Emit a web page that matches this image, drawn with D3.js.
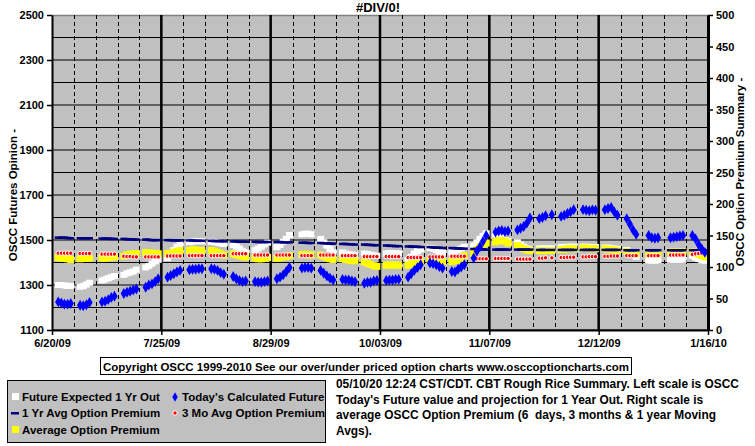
<!DOCTYPE html>
<html><head><meta charset="utf-8">
<script src="https://cdn.jsdelivr.net/npm/d3@7"></script>
<style>
body{margin:0;background:#fff;}
svg text{font-family:"Liberation Sans",Arial,sans-serif;font-weight:bold;white-space:pre;}
</style></head>
<body><svg id="c" width="755" height="446"></svg>
<script>
// ---- data ----
const chartTitle = "#DIV/0!";
const weekStarts = ["2009-06-22","2009-06-29","2009-07-06","2009-07-13","2009-07-20","2009-07-27","2009-08-03","2009-08-10","2009-08-17","2009-08-24",
  "2009-08-31","2009-09-07","2009-09-14","2009-09-21","2009-09-28","2009-10-05","2009-10-12","2009-10-19","2009-10-26","2009-11-02",
  "2009-11-09","2009-11-16","2009-11-23","2009-11-30","2009-12-07","2009-12-14","2009-12-21","2009-12-28","2010-01-04","2010-01-11"];
// trading weekdays in each week (0 = Monday)
const weekDays = [[0,1,2,3,4],[0,1,2,3],[0,1,2,3,4],[0,1,2,3,4],[0,1,2,3,4],[0,1,2,3,4],[0,1,2,3,4],[0,1,2,3,4],[0,1,2,3,4],[0,1,2,3,4],
  [0,1,2,3,4],[1,2,3,4],[0,1,2,3,4],[0,1,2,3,4],[0,1,2,3,4],[0,1,2,3,4],[0,1,2,3,4],[0,1,2,3,4],[0,1,2,3,4],[0,1,2,3,4],
  [0,1,2,3,4],[0,1,2,3,4],[0,1,2,4],[0,1,2,3,4],[0,1,2,3,4],[0,1,2,3,4],[0,1,2,3],[0,1,2,3],[0,1,2,3,4],[0,1,2,3,4]];

// Future Expected 1 Yr Out (left scale)
const futureExpected = [[1300,1300,1298,1296,1296],[1292,1295,1302,1310],[1320,1325,1330,1335,1340],[1345,1352,1356,1360,1368],[1378,1385,1395,1405,1412],
  [1420,1440,1455,1470,1480],[1490,1492,1495,1495,1494],[1492,1490,1488,1485,1482],[1478,1470,1462,1452,1445],[1455,1462,1470,1480,1488],
  [1468,1478,1492,1505,1522],[1525,1528,1528,1525],[1505,1490,1475,1460,1445],[1445,1440,1438,1435,1432],[1440,1438,1435,1432,1430],
  [1440,1442,1442,1440,1440],[1412,1425,1440,1450,1458],[1465,1462,1455,1448,1442],[1445,1448,1455,1462,1470],[1475,1490,1505,1518,1530],
  [1525,1520,1510,1500,1495],[1490,1480,1470,1462,1458],[1462,1462,1463,1463],[1468,1468,1470,1470,1470],[1470,1470,1469,1469,1469],
  [1466,1466,1464,1462,1460],[1456,1445,1435,1425],[1410,1408,1408,1410],[1412,1412,1412,1412,1412],[1430,1422,1415,1410,1408]];
// Today's Calculated Future (left scale)
const todaysFuture = [[1225,1220,1215,1215,1218],[1210,1208,1212,1222],[1225,1228,1235,1245,1250],[1262,1268,1272,1278,1282],[1290,1300,1305,1315,1328],
  [1335,1342,1350,1358,1365],[1368,1370,1370,1372,1372],[1372,1370,1365,1355,1348],[1338,1328,1320,1315,1318],[1315,1313,1312,1315,1318],
  [1328,1335,1345,1360,1378],[1375,1378,1378,1375],[1365,1352,1340,1330,1322],[1325,1322,1322,1318,1315],[1308,1312,1312,1318,1320],
  [1320,1322,1322,1325,1325],[1335,1350,1365,1378,1390],[1398,1395,1390,1382,1375],[1360,1358,1370,1380,1390],[1420,1450,1470,1495,1520],
  [1535,1540,1542,1538,1540],[1545,1552,1560,1575,1598],[1595,1600,1608,1612],[1605,1610,1618,1625,1635],[1635,1632,1630,1634,1632],
  [1635,1640,1645,1625,1610],[1595,1570,1545,1525],[1520,1510,1508,1510],[1510,1512,1515,1518,1520],[1520,1505,1480,1460,1445]];
// 1 Yr Avg Option Premium (right scale)
const avg1Yr = [[147,147,147,146.5,146],[146,146,146,146],[145.5,145.5,145.5,145,145],[145,144.5,144.5,144,144],[144,143.5,143,143,143],
  [143,143,142.5,142.5,142.5],[142.5,142.5,142,142,142],[142,141.5,141.5,141.5,141],[141,141,140.5,140.5,140.5],[140.5,140,140,140,140],
  [140,140,139.5,139.5,139.5],[139,139,138.5,138.5],[138.5,138,138,137.5,137.5],[137,137,136.5,136.5,136],[136,135.5,135.5,135,135],
  [134.5,134,134,133.5,133.5],[133,133,132.5,132.5,132],[132,131.5,131,131,130.5],[130.5,130,130,129.5,129.5],[129,129,128.5,128.5,128],
  [128,128,128,128,128],[128,128,128,128,128],[127.5,127.5,127.5,127.5],[127.5,127.5,127.5,127.5,127.5],[127.5,127.5,127.5,127.5,127.5],
  [127.5,127.5,127.5,127.5,127.5],[127,127,127,127],[127,127,127,127],[127,127,127,127,127],[127,127,127,127,127]];
// 3 Mo Avg Option Premium (right scale)
const avg3Mo = [[122,122,122,122,122],[121.5,121.5,121.5,121.5],[120.5,120.5,120.5,120.5,120.5],[117,116.5,116.5,116,116],[116,116,116,116,116],
  [117.5,117.5,117.5,117.5,117.5],[118,118,118,118,118],[118,118,118,118,118],[121,121,121,121,121],[119,119,119,119,119],
  [119,119,119,119,119],[118,118,118,118],[119,119,119,119,119],[118,118,118,118,118],[116.5,116.5,116.5,116.5,116.5],
  [116.5,116.5,116.5,116.5,116.5],[115,115,115,115,115],[116,116,116,116,116],[117,117,117,117,117],[113,113,113,113,113],
  [113.5,113.5,113.5,113.5,113.5],[112.5,112.5,112.5,112.5,112.5],[114,114,114.5,114.5],[115,115,115.5,115.5,115.5],[116,116,116.5,116.5,116.5],
  [117,117,117.5,117.5,117.5],[118,118,118,118],[118,118,118,118],[119,119,119,119,119],[120,121,121.5,122,123]];
// Average Option Premium (right scale)
const avgPremium = [[115,114,114,113,112],[113,114,114,114],[114,114,115,116,116],[117,119,120,121,121],[123,122,122,121,121],
  [121,122,123,125,126],[126,127,127,126,126],[126,125,123,121,119],[121,119,118,117,116],[114,113,113,114,115],
  [114,115,116,117,118],[120,120,119,119],[119,117,115,113,112],[113,112,111,110,110],[108,106,104,102,101],
  [103,103,103,103,103],[103,105,107,108,109],[111,111,110,110,109],[109,110,111,114,118],[122,128,132,136,138],
  [140,142,142,141,138],[134,131,129,127,126],[126,126,126,126],[128,128,129,129,129],[130,130,129,129,129],
  [129,128,128,127,126],[125,123,122,121],[120,120,121,121],[124,124,124,124,124],[124,122,120,118,116]];

const leftTicks = [1100,1300,1500,1700,1900,2100,2300,2500];
const rightTicks = [0,50,100,150,200,250,300,350,400,450,500];
const dateTicks = ["2009-06-20","2009-07-25","2009-08-29","2009-10-03","2009-11-07","2009-12-12","2010-01-16"];
const leftTitle = "OSCC Futures Opinion -";
const rightTitle = "OSCC Option Premium Summary -";
const copyright = "Copyright OSCC 1999-2010 See our over/under priced option charts www.osccoptioncharts.com";
const legendItems = [["Future Expected 1 Yr Out","white"],["Today's Calculated Future","blue"],["1 Yr Avg Option Premium","navy"],["3 Mo Avg Option Premium","red"],["Average Option Premium","yellow"]];
const description = ["05/10/20 12:24 CST/CDT. CBT Rough Rice Summary. Left scale is OSCC","Today's Future value and projection for 1 Year Out. Right scale is","average OSCC Option Premium (6  days, 3 months & 1 year Moving","Avgs)."];

// ---- build rows ----
const parse = d3.utcParse("%Y-%m-%d");
const rows = [];
weekStarts.forEach((ws,wi)=>{
  weekDays[wi].forEach((dd,di)=>{
    rows.push({date:d3.utcDay.offset(parse(ws),dd),
      fe:futureExpected[wi][di], tf:todaysFuture[wi][di], a1:avg1Yr[wi][di], a3:avg3Mo[wi][di], ap:avgPremium[wi][di]});
  });
});

const L=52,R=708,T=15,B=330;
const x = d3.scaleUtc().domain([parse("2009-06-20"),parse("2010-01-16")]).range([L,R]);
const yL = d3.scaleLinear().domain([1100,2500]).range([B,T]);
const yR = d3.scaleLinear().domain([0,500]).range([B,T]);

const svg = d3.select("#c");
svg.append("rect").attr("x",L).attr("y",T).attr("width",R-L).attr("height",B-T).attr("fill","#c0c0c0");

// horizontal grid
svg.append("g").selectAll("line").data(d3.range(1100,2501,100)).join("line")
  .attr("x1",L).attr("x2",R).attr("y1",d=>yL(d)).attr("y2",d=>yL(d))
  .attr("stroke","#000").attr("stroke-width",d=>d===2500?0:1.2);
svg.append("line").attr("x1",L).attr("x2",R).attr("y1",T+0.5).attr("y2",T+0.5).attr("stroke","#808080").attr("stroke-width",1.5);
// vertical grid
const vlines = [];
for(let d=parse("2009-06-20"); d<=parse("2010-01-16"); d=d3.utcDay.offset(d,7)) vlines.push(d);
const majorSet = new Set(dateTicks.map(s=>+parse(s)));
svg.append("g").selectAll("line").data(vlines.filter(d=>!majorSet.has(+d))).join("line")
  .attr("x1",d=>Math.round(x(d))+0.5).attr("x2",d=>Math.round(x(d))+0.5).attr("y1",T).attr("y2",B)
  .attr("stroke","#000").attr("stroke-width",1).attr("stroke-dasharray","4,3");
svg.append("g").selectAll("line").data(dateTicks.slice(1,-1).map(parse)).join("line")
  .attr("x1",d=>x(d)).attr("x2",d=>x(d)).attr("y1",T).attr("y2",B)
  .attr("stroke","#000").attr("stroke-width",2.5);

// series
const g = svg.append("g");
g.selectAll(".fe").data(rows).join("rect")
  .attr("x",d=>x(d.date)-3.5).attr("y",d=>yL(d.fe)-3).attr("width",7).attr("height",6).attr("fill","#fff");
g.selectAll(".ap").data(rows).join("rect")
  .attr("x",d=>x(d.date)-3.5).attr("y",d=>yR(d.ap)-3.5).attr("width",7).attr("height",7).attr("fill","#ffff00");
g.selectAll(".a1").data(rows).join("rect")
  .attr("x",d=>x(d.date)-3.5).attr("y",d=>yR(d.a1)-1).attr("width",7).attr("height",2.5).attr("fill","#000080");
g.selectAll(".a3").data(rows).join("circle")
  .attr("cx",d=>x(d.date)).attr("cy",d=>yR(d.a3)).attr("r",2.2).attr("fill","#ff0000").attr("stroke","#fff").attr("stroke-width",1);
const diamond = d3.symbol().type(d3.symbolDiamond).size(34);
g.selectAll(".tf").data(rows).join("path")
  .attr("transform",d=>`translate(${x(d.date)},${yL(d.tf)})`).attr("d",diamond).attr("fill","#0000ff");

// axes
const axL = svg.append("g").attr("transform",`translate(${L},0)`)
  .call(d3.axisLeft(yL).tickValues(leftTicks).tickFormat(d3.format("d")).tickSize(5).tickSizeOuter(0).tickPadding(3));
const axR = svg.append("g").attr("transform",`translate(${R},0)`)
  .call(d3.axisRight(yR).tickValues(rightTicks).tickFormat(d3.format("d")).tickSize(5).tickSizeOuter(0).tickPadding(3));
const axB = svg.append("g").attr("transform",`translate(0,${B})`)
  .call(d3.axisBottom(x).tickValues(dateTicks.map(parse)).tickFormat(d=>d3.utcFormat("%-m/%d/%y")(d)).tickSize(5).tickSizeOuter(0).tickPadding(4));
[axL,axR,axB].forEach(a=>{
  a.selectAll("text").attr("font-size",11).attr("font-weight","bold").attr("fill","#000").attr("font-family","Liberation Sans, Arial");
  a.selectAll(".tick line").attr("stroke","#000").attr("stroke-width",1.5);
});
axL.select(".domain").attr("stroke","#000").attr("stroke-width",2);
axR.select(".domain").attr("stroke","#000").attr("stroke-width",3);
axB.select(".domain").attr("stroke","#000").attr("stroke-width",2);

// titles
svg.append("text").attr("x",378).attr("y",12).attr("text-anchor","middle").attr("font-size",13).text(chartTitle);
svg.append("text").attr("transform","translate(17,195) rotate(-90)").attr("text-anchor","middle").attr("font-size",11.5).text(leftTitle);
svg.append("text").attr("transform","translate(744,172) rotate(-90)").attr("text-anchor","middle").attr("font-size",11.5).text(rightTitle);

// copyright box
svg.append("rect").attr("x",100.5).attr("y",357.5).attr("width",531).attr("height",17).attr("fill","#fff").attr("stroke","#000");
svg.append("text").attr("x",366).attr("y",370.5).attr("text-anchor","middle").attr("font-size",11.5).text(copyright);

// legend
svg.append("rect").attr("x",7.5).attr("y",380.5).attr("width",318).attr("height",62).attr("fill","#c0c0c0").attr("stroke","#000");
const legPos = [[22,397],[182,397],[22,413],[182,413],[22,430]];
legendItems.forEach((it,i)=>{
  const [lx,ly]=legPos[i];
  const mg = svg.append("g");
  if(it[1]==="white") mg.append("rect").attr("x",lx-10).attr("y",ly-4).attr("width",7).attr("height",7).attr("fill","#fff");
  if(it[1]==="yellow") mg.append("rect").attr("x",lx-10).attr("y",ly-4).attr("width",7).attr("height",7).attr("fill","#ffff00");
  if(it[1]==="navy") mg.append("rect").attr("x",lx-11).attr("y",ly-1).attr("width",8).attr("height",2.5).attr("fill","#000080");
  if(it[1]==="blue") mg.append("path").attr("transform",`translate(${lx-7},${ly})`).attr("d",d3.symbol().type(d3.symbolDiamond).size(26)).attr("fill","#0000ff");
  if(it[1]==="red") mg.append("circle").attr("cx",lx-7).attr("cy",ly).attr("r",2.2).attr("fill","#ff0000").attr("stroke","#fff");
  svg.append("text").attr("x",lx).attr("y",ly+4).attr("font-size",11.5).text(it[0]);
});

// description
description.forEach((t,i)=>{
  svg.append("text").attr("x",336).attr("y",388+i*15.5).attr("font-size",11.9).attr("xml:space","preserve").text(t);
});
</script></body></html>
